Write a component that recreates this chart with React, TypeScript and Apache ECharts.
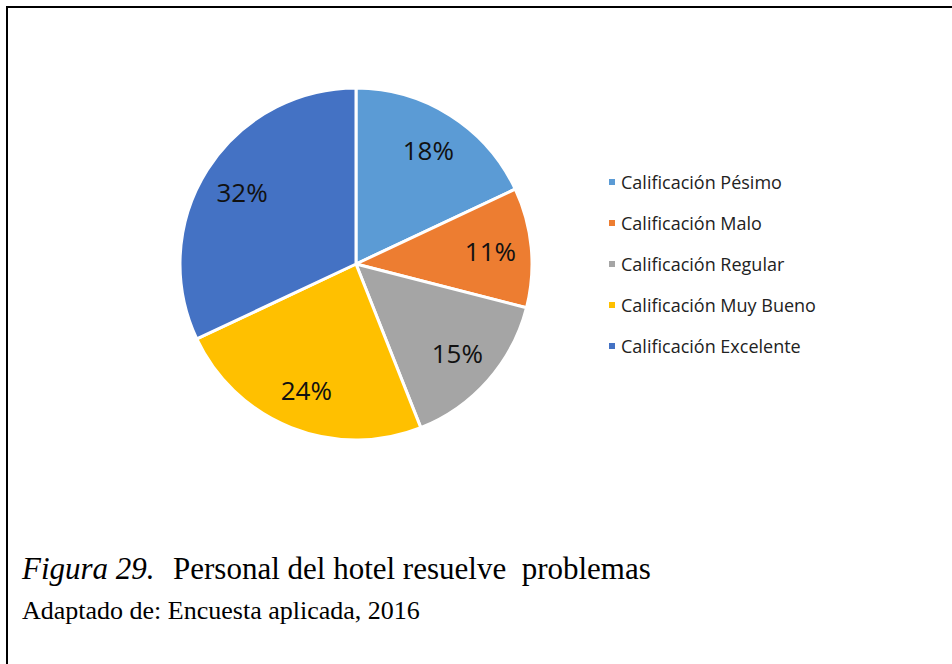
import React, { useEffect, useRef } from "react";
import * as echarts from "echarts";

const categories = [
  "Calificación Pésimo",
  "Calificación Malo",
  "Calificación Regular",
  "Calificación Muy Bueno",
  "Calificación Excelente",
];
const values = [18, 11, 15, 24, 32];
const colors = ["#5B9BD5", "#ED7D31", "#A5A5A5", "#FFC000", "#4472C4"];
const captionTitle = "Figura 29.";
const captionRest = "Personal del hotel resuelve  problemas";
const captionSource = "Adaptado de: Encuesta aplicada, 2016";

export default function App() {
  const ref = useRef<HTMLDivElement>(null);
  useEffect(() => {
    if (!ref.current) return;
    const chart = echarts.init(ref.current, null, { renderer: "svg" });
    const data = categories.map((name, i) => ({
      name,
      value: values[i],
      itemStyle: { color: colors[i] },
    }));
    chart.setOption({
      animation: false,
      backgroundColor: "#ffffff",
      legend: {
        orient: "vertical",
        left: 602,
        top: 168,
        itemWidth: 8,
        itemHeight: 8,
        itemGap: 23,
        icon: "rect",
        data: categories,
        textStyle: { fontFamily: "Open Sans", fontSize: 18, color: "#222" },
      },
      series: [
        {
          type: "pie",
          center: [356, 264],
          radius: [0, 176],
          startAngle: 90,
          clockwise: true,
          data,
          label: { show: false },
          labelLine: { show: false },
          itemStyle: { borderColor: "#ffffff", borderWidth: 3 },
          silent: true,
        },
        {
          type: "pie",
          center: [356, 264],
          radius: [88, 176],
          startAngle: 90,
          clockwise: true,
          data: categories.map((name, i) => ({
            name,
            value: values[i],
            itemStyle: { color: "rgba(0,0,0,0)" },
          })),
          label: {
            show: true,
            position: "inside",
            formatter: "{c}%",
            fontFamily: "Open Sans",
            fontSize: 26,
            color: "#111",
          },
          labelLine: { show: false },
          itemStyle: { borderWidth: 0 },
          silent: true,
        },
      ],
      graphic: [
        {
          type: "rect",
          shape: { x: 7, y: 7, width: 960, height: 670 },
          style: { fill: "none", stroke: "#000", lineWidth: 2 },
          silent: true,
        },
        {
          type: "text",
          left: 22,
          top: 553,
          style: {
            text: captionTitle,
            font: "italic 31px 'Liberation Serif'",
            fill: "#000",
          },
        },
        {
          type: "text",
          left: 173,
          top: 553,
          style: {
            text: captionRest,
            font: "31px 'Liberation Serif'",
            fill: "#000",
          },
        },
        {
          type: "text",
          left: 22,
          top: 597,
          style: {
            text: captionSource,
            font: "26px 'Liberation Serif'",
            fill: "#000",
          },
        },
      ],
    });
    return () => chart.dispose();
  }, []);
  return (
    <div
      ref={ref}
      style={{ position: "fixed", left: 0, top: 0, width: 952, height: 664 }}
    />
  );
}
